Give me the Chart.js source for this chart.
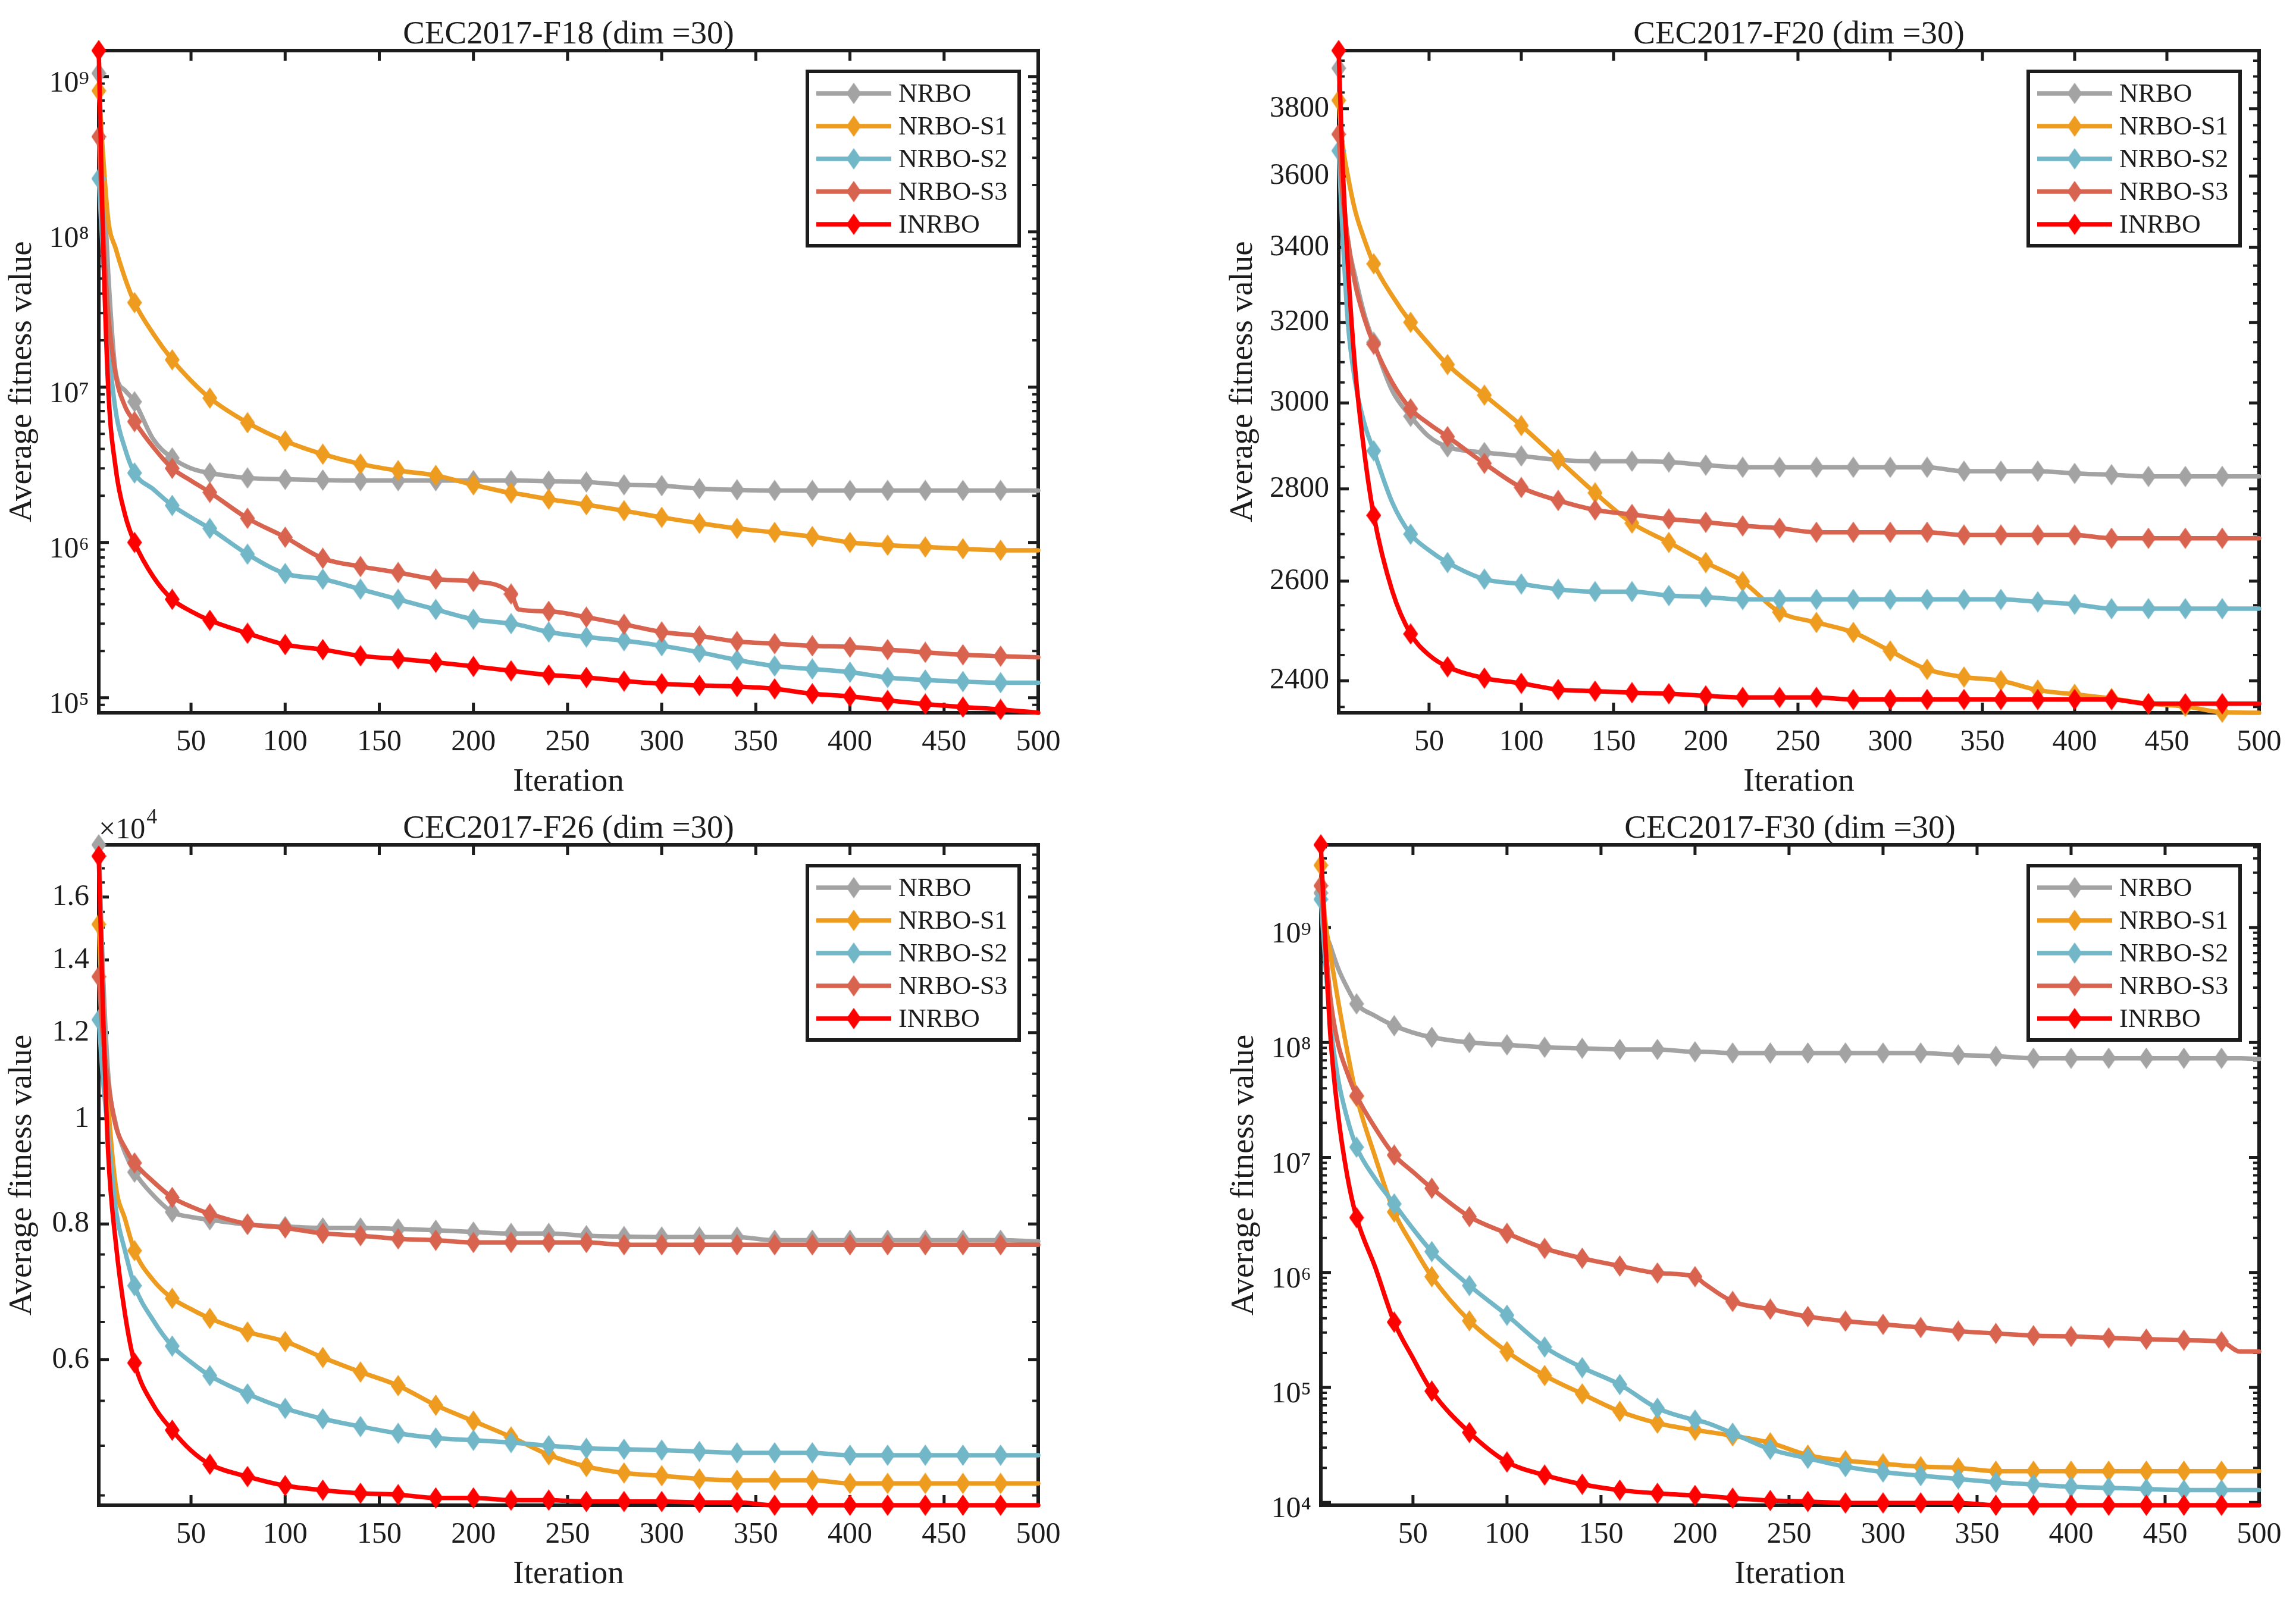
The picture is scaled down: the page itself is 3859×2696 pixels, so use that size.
<!DOCTYPE html>
<html>
<head>
<meta charset="utf-8">
<title>INRBO convergence curves</title>
<script src="https://cdn.jsdelivr.net/npm/chart.js@4.4.1/dist/chart.umd.min.js"></script>
<style>
  html, body { margin: 0; padding: 0; background: #fff; }
  #page { position: relative; width: 3859px; height: 2696px; background: #fff; overflow: hidden; }
  #page canvas { position: absolute; }
</style>
</head>
<body>
<div id="page">
  <canvas id="f18" width="1930" height="1348" style="left:0;top:0"></canvas>
  <canvas id="f20" width="1929" height="1348" style="left:1930px;top:0"></canvas>
  <canvas id="f26" width="1930" height="1348" style="left:0;top:1348px"></canvas>
  <canvas id="f30" width="1929" height="1348" style="left:1930px;top:1348px"></canvas>
</div>
<script>
// ---------------- SHARED ----------------
const SERIES_NAMES = ["NRBO", "NRBO-S1", "NRBO-S2", "NRBO-S3", "INRBO"];
const X_TICKS = [50, 100, 150, 200, 250, 300, 350, 400, 450, 500];
const MARKER_ITERS = [1, 20, 40, 60, 80, 100, 120, 140, 160, 180, 200, 220, 240,
  260, 280, 300, 320, 340, 360, 380, 400, 420, 440, 460, 480];

// ---------------- CEC2017-F18 ----------------
const F18_ITER = [1, 3, 6, 10, 15, 20, 30, 40, 50, 60, 80, 100, 120, 140, 160, 180, 200,
  220, 224, 240, 260, 280, 300, 320, 340, 360, 380, 400, 420, 440, 460, 480, 500];
const F18_NRBO = [1.05e9, 3e8, 5.5e7, 1.25e7, 9.5e6, 8.05e6, 4.6e6, 3.5e6, 3.0e6, 2.8e6,
  2.6e6, 2.55e6, 2.52e6, 2.5e6, 2.5e6, 2.5e6, 2.5e6, 2.5e6, 2.5e6, 2.48e6, 2.45e6,
  2.35e6, 2.32e6, 2.22e6, 2.18e6, 2.16e6, 2.16e6, 2.16e6, 2.16e6, 2.16e6, 2.16e6, 2.16e6, 2.16e6];
const F18_S1 = [8.1e8, 3.5e8, 1.2e8, 7.8e7, 5e7, 3.5e7, 2.2e7, 1.5e7, 1.1e7, 8.5e6,
  5.9e6, 4.5e6, 3.7e6, 3.2e6, 2.9e6, 2.7e6, 2.35e6, 2.08e6, 2.05e6, 1.9e6, 1.75e6,
  1.6e6, 1.45e6, 1.33e6, 1.23e6, 1.16e6, 1.09e6, 1.0e6, 9.6e5, 9.35e5, 9.1e5, 8.9e5, 8.9e5];
const F18_S2 = [2.2e8, 8e7, 2e7, 7e6, 4e6, 2.8e6, 2.2e6, 1.73e6, 1.45e6, 1.23e6,
  8.4e5, 6.3e5, 5.8e5, 5.0e5, 4.3e5, 3.7e5, 3.2e5, 3.0e5, 2.95e5, 2.65e5, 2.46e5,
  2.33e5, 2.16e5, 1.96e5, 1.75e5, 1.6e5, 1.53e5, 1.46e5, 1.35e5, 1.3e5, 1.27e5, 1.25e5, 1.25e5];
const F18_S3 = [4.1e8, 1.2e8, 3e7, 1.2e7, 7.5e6, 6e6, 4.1e6, 3.0e6, 2.5e6, 2.1e6,
  1.43e6, 1.08e6, 7.9e5, 7.0e5, 6.4e5, 5.8e5, 5.6e5, 4.65e5, 3.7e5, 3.6e5, 3.3e5,
  2.97e5, 2.65e5, 2.5e5, 2.3e5, 2.23e5, 2.16e5, 2.12e5, 2.04e5, 1.96e5, 1.89e5, 1.85e5, 1.82e5];
const F18_INRBO = [1.47e9, 1.2e8, 1.0e7, 3.0e6, 1.5e6, 1.0e6, 6.0e5, 4.3e5, 3.6e5, 3.15e5,
  2.6e5, 2.2e5, 2.04e5, 1.86e5, 1.78e5, 1.69e5, 1.59e5, 1.49e5, 1.47e5, 1.4e5, 1.35e5,
  1.28e5, 1.23e5, 1.2e5, 1.18e5, 1.14e5, 1.06e5, 1.02e5, 9.6e4, 9.1e4, 8.7e4, 8.4e4, 8.0e4];
const F18_YTICKS = [1e5, 1e6, 1e7, 1e8, 1e9];

// ---------------- CEC2017-F20 ----------------
const F20_ITER = [1, 3, 6, 10, 15, 20, 30, 40, 50, 60, 80, 100, 120, 140, 160, 180, 200,
  220, 240, 260, 280, 300, 320, 340, 360, 380, 400, 420, 440, 460, 480, 500];
const F20_NRBO = [3926, 3600, 3420, 3320, 3220, 3150, 3030, 2968, 2920, 2896,
  2883, 2875, 2866, 2863, 2863, 2861, 2854, 2849, 2849, 2849, 2849, 2849, 2849,
  2840, 2840, 2840, 2835, 2832, 2828, 2828, 2828, 2828];
const F20_S1 = [3826, 3700, 3600, 3500, 3420, 3355, 3270, 3201, 3145, 3094,
  3019, 2946, 2867, 2791, 2724, 2682, 2639, 2599, 2536, 2515, 2495, 2458, 2422,
  2407, 2400, 2382, 2374, 2366, 2356, 2351, 2340, 2339];
const F20_S2 = [3674, 3450, 3200, 3050, 2950, 2887, 2770, 2700, 2665, 2639,
  2604, 2594, 2583, 2578, 2578, 2570, 2567, 2562, 2562, 2562, 2562, 2562, 2562,
  2562, 2562, 2557, 2552, 2543, 2543, 2543, 2543, 2543];
const F20_S3 = [3723, 3550, 3420, 3300, 3210, 3145, 3050, 2986, 2950, 2920,
  2858, 2803, 2774, 2753, 2743, 2733, 2726, 2718, 2713, 2704, 2704, 2704, 2704,
  2698, 2698, 2698, 2698, 2691, 2691, 2691, 2691, 2691];
const F20_INRBO = [3982, 3650, 3350, 3080, 2880, 2741, 2580, 2492, 2450, 2427,
  2405, 2395, 2383, 2380, 2377, 2375, 2371, 2368, 2368, 2368, 2364, 2364, 2364,
  2364, 2364, 2364, 2364, 2364, 2356, 2356, 2356, 2356];
const F20_YTICKS = [2400, 2600, 2800, 3000, 3200, 3400, 3600, 3800];
const F20_YMINOR = [2350, 2450, 2500, 2550, 2650, 2700, 2750, 2850, 2900, 2950,
  3050, 3100, 3150, 3250, 3300, 3350, 3450, 3500, 3550, 3650, 3700, 3750, 3850, 3900, 3950];

// ---------------- CEC2017-F26 ----------------
const F26_ITER = F20_ITER;
const F26_NRBO = [17870, 14000, 11000, 9900, 9300, 8930, 8500, 8206, 8120, 8072,
  7990, 7957, 7934, 7934, 7918, 7895, 7865, 7842, 7842, 7805, 7790, 7782, 7782,
  7782, 7730, 7730, 7730, 7730, 7730, 7730, 7730, 7710];
const F26_S1 = [15100, 12500, 10300, 8680, 8080, 7561, 7100, 6834, 6680, 6550,
  6363, 6236, 6029, 5846, 5680, 5449, 5269, 5094, 4905, 4785, 4720, 4692, 4661,
  4648, 4648, 4648, 4617, 4617, 4617, 4617, 4617, 4617];
const F26_S2 = [12334, 11000, 9700, 8270, 7550, 7020, 6520, 6176, 5970, 5801,
  5581, 5412, 5294, 5208, 5133, 5083, 5059, 5035, 5001, 4973, 4963, 4954, 4940,
  4926, 4926, 4926, 4901, 4901, 4901, 4901, 4901, 4901];
const F26_S3 = [13516, 12000, 10800, 9850, 9400, 9106, 8750, 8463, 8300, 8174,
  8000, 7934, 7843, 7805, 7753, 7730, 7693, 7693, 7693, 7693, 7656, 7656, 7656,
  7656, 7656, 7656, 7656, 7656, 7656, 7656, 7656, 7656];
const F26_INRBO = [17447, 13000, 9300, 7700, 6600, 5960, 5450, 5168, 4950, 4808,
  4684, 4595, 4551, 4521, 4508, 4477, 4477, 4456, 4456, 4443, 4443, 4443, 4434,
  4434, 4408, 4408, 4408, 4408, 4408, 4408, 4408, 4408];
const F26_YTICKS = [6000, 8000, 10000, 12000, 14000, 16000];
const F26_YMINOR = [4500, 5000, 5500, 6500, 7000, 7500, 8500, 9000, 9500, 10500, 11000,
  11500, 12500, 13000, 13500, 14500, 15000, 15500, 16500, 17000, 17500];

// ---------------- CEC2017-F30 ----------------
const F30_ITER = [1, 3, 6, 10, 15, 20, 30, 40, 50, 60, 80, 100, 120, 140, 160, 180, 200,
  205, 220, 240, 260, 280, 300, 320, 340, 360, 380, 400, 420, 440, 460, 480, 490, 500];
const F30_NRBO = [2.0e9, 1.0e9, 7e8, 4.5e8, 3e8, 2.17e8, 1.7e8, 1.4e8, 1.22e8, 1.11e8,
  1.0e8, 9.55e7, 9.1e7, 8.9e7, 8.7e7, 8.7e7, 8.3e7, 8.3e7, 8.1e7, 8.1e7, 8.1e7,
  8.1e7, 8.1e7, 8.1e7, 7.8e7, 7.6e7, 7.3e7, 7.3e7, 7.3e7, 7.3e7, 7.3e7, 7.3e7, 7.3e7, 7.2e7];
const F30_S1 = [3.48e9, 1.3e9, 6e8, 2.4e8, 8.5e7, 3.4e7, 1.0e7, 3.36e6, 1.7e6, 9.2e5,
  3.8e5, 2.05e5, 1.27e5, 8.8e4, 6.2e4, 4.9e4, 4.25e4, 4.15e4, 3.8e4, 3.3e4, 2.58e4,
  2.31e4, 2.17e4, 2.05e4, 2.0e4, 1.87e4, 1.87e4, 1.87e4, 1.87e4, 1.87e4, 1.87e4, 1.87e4, 1.87e4, 1.87e4];
const F30_S2 = [1.76e9, 6e8, 1.5e8, 5e7, 2.2e7, 1.23e7, 6.5e6, 3.95e6, 2.4e6, 1.52e6,
  7.7e5, 4.25e5, 2.25e5, 1.49e5, 1.06e5, 6.6e4, 5.2e4, 5.0e4, 4.0e4, 2.9e4, 2.42e4,
  2.05e4, 1.84e4, 1.71e4, 1.6e4, 1.5e4, 1.43e4, 1.37e4, 1.34e4, 1.31e4, 1.28e4, 1.28e4, 1.28e4, 1.28e4];
const F30_S3 = [2.31e9, 9e8, 2.5e8, 1.0e8, 5.5e7, 3.45e7, 1.8e7, 1.05e7, 7.5e6, 5.4e6,
  3.06e6, 2.19e6, 1.62e6, 1.33e6, 1.14e6, 9.9e5, 9.2e5, 8.0e5, 5.6e5, 4.8e5, 4.14e5,
  3.78e5, 3.54e5, 3.32e5, 3.09e5, 2.95e5, 2.82e5, 2.78e5, 2.7e5, 2.63e5, 2.58e5, 2.5e5, 2.05e5, 2.05e5];
const F30_INRBO = [5.24e9, 1.0e9, 1.2e8, 2.5e7, 7e6, 3.0e6, 1.1e6, 3.7e5, 1.8e5, 9.3e4,
  4.06e4, 2.25e4, 1.73e4, 1.44e4, 1.28e4, 1.2e4, 1.15e4, 1.14e4, 1.09e4, 1.04e4, 1.02e4,
  9.9e3, 9.9e3, 9.9e3, 9.9e3, 9.46e3, 9.46e3, 9.46e3, 9.46e3, 9.46e3, 9.46e3, 9.46e3, 9.46e3, 9.46e3];
const F30_YTICKS = [1e4, 1e5, 1e6, 1e7, 1e8, 1e9];

// ---------------- STYLE ----------------
const SERIES_COLORS = ["#a3a3a3", "#ee9c20", "#72b7c8", "#d8634f", "#ff0000"];
const INK = "#1c1c1c";
const SERIF = "'Liberation Serif', 'Times New Roman', serif";
const X_AXIS_H = 150;

Chart.defaults.font.family = SERIF;
Chart.defaults.color = INK;

function makeDiamond(color) {
  const c = document.createElement("canvas");
  c.width = 25;
  c.height = 36;
  const g = c.getContext("2d");
  g.fillStyle = color;
  g.beginPath();
  g.moveTo(12.5, 0);
  g.lineTo(25, 18);
  g.lineTo(12.5, 36);
  g.lineTo(0, 18);
  g.closePath();
  g.fill();
  return c;
}
const DIAMONDS = SERIES_COLORS.map(makeDiamond);

// ---------------- TICK LABELS ----------------
const SUP = { "0": "\u2070", "1": "\u00b9", "2": "\u00b2", "3": "\u00b3", "4": "\u2074",
  "5": "\u2075", "6": "\u2076", "7": "\u2077", "8": "\u2078", "9": "\u2079" };

function powerLabel(v) {
  const e = String(Math.round(Math.log10(v)));
  return "10" + e.split("").map((d) => SUP[d]).join("");
}
function plainLabel(v) {
  return String(v);
}
function scaledLabel(v) {
  return String(Math.round(v / 1000) / 10);
}
function decadeMinor(min, max) {
  const out = [];
  for (let n = Math.floor(Math.log10(min)); n <= Math.ceil(Math.log10(max)); n++) {
    for (let k = 2; k <= 9; k++) {
      const v = k * Math.pow(10, n);
      if (v > min && v < max) out.push(v);
    }
  }
  return out;
}

// ---------------- PLUGINS ----------------
// box + inward tick marks, drawn under the curves like MATLAB
const axesBox = {
  id: "axesBox",
  beforeDatasetsDraw(chart, args, opts) {
    const { ctx, chartArea: a } = chart;
    const x = chart.scales.x;
    const y = chart.scales.y;
    ctx.save();
    ctx.strokeStyle = INK;
    ctx.lineCap = "butt";

    ctx.lineWidth = 5;
    ctx.beginPath();
    x.ticks.forEach((t) => {
      const px = x.getPixelForValue(t.value);
      ctx.moveTo(px, a.bottom);
      ctx.lineTo(px, a.bottom - 17);
      ctx.moveTo(px, a.top);
      ctx.lineTo(px, a.top + 17);
    });
    y.ticks.forEach((t) => {
      const py = y.getPixelForValue(t.value);
      ctx.moveTo(a.left, py);
      ctx.lineTo(a.left + 17, py);
      ctx.moveTo(a.right, py);
      ctx.lineTo(a.right - 17, py);
    });
    ctx.stroke();

    ctx.lineWidth = 4;
    ctx.beginPath();
    (opts.minor || []).forEach((v) => {
      const py = y.getPixelForValue(v);
      if (py < a.top || py > a.bottom) return;
      ctx.moveTo(a.left, py);
      ctx.lineTo(a.left + 10, py);
      ctx.moveTo(a.right, py);
      ctx.lineTo(a.right - 10, py);
    });
    ctx.stroke();

    ctx.lineWidth = 6;
    ctx.strokeRect(a.left, a.top, a.right - a.left, a.bottom - a.top);
    ctx.restore();
  },
};

// title, exponent note and MATLAB-style legend
const panelDecor = {
  id: "panelDecor",
  afterDatasetsDraw(chart, args, opts) {
    const { ctx, chartArea: a } = chart;
    ctx.save();
    ctx.fillStyle = INK;
    ctx.textBaseline = "alphabetic";
    ctx.textAlign = "center";
    ctx.font = `55px ${SERIF}`;
    ctx.fillText(opts.title, (a.left + a.right) / 2, a.top - 12);

    if (opts.exponent) {
      ctx.textAlign = "left";
      ctx.font = `50px ${SERIF}`;
      ctx.fillText("\u00d710", a.left, a.top - 11);
      const w = ctx.measureText("\u00d710").width;
      ctx.font = `36px ${SERIF}`;
      ctx.fillText(opts.exponent, a.left + w + 2, a.top - 36);
    }

    const lw = 356;
    const lh = 293;
    const lx = a.right - 32 - lw;
    const ly = a.top + 35;
    ctx.fillStyle = "#fff";
    ctx.fillRect(lx, ly, lw, lh);
    ctx.lineWidth = 6;
    ctx.strokeStyle = INK;
    ctx.strokeRect(lx, ly, lw, lh);

    chart.data.datasets.forEach((ds, i) => {
      const cy = ly + 37 + i * 55;
      ctx.strokeStyle = ds.borderColor;
      ctx.lineWidth = 7.5;
      ctx.beginPath();
      ctx.moveTo(lx + 15, cy);
      ctx.lineTo(lx + 141, cy);
      ctx.stroke();
      const m = DIAMONDS[i];
      ctx.drawImage(m, lx + 78 - m.width / 2, cy - m.height / 2);
      ctx.fillStyle = INK;
      ctx.font = `44px ${SERIF}`;
      ctx.textAlign = "left";
      ctx.textBaseline = "middle";
      ctx.fillText(ds.label, lx + 153, cy + 2);
    });
    ctx.restore();
  },
};

// ---------------- CHART BUILDER ----------------
function makeChart(p) {
  const canvas = document.getElementById(p.id);
  const W = canvas.width;
  const H = canvas.height;
  const all = p.series.flat();
  const yMin = Math.min(...all);
  const yMax = Math.max(...all);

  return new Chart(canvas, {
    type: "line",
    data: {
      datasets: SERIES_NAMES.map((name, i) => ({
        label: name,
        data: p.iters.map((x, j) => ({ x, y: p.series[i][j] })),
        borderColor: SERIES_COLORS[i],
        backgroundColor: SERIES_COLORS[i],
        borderWidth: 7.5,
        borderJoinStyle: "round",
        borderCapStyle: "round",
        cubicInterpolationMode: "monotone",
        pointStyle: DIAMONDS[i],
        pointRadius: (ctx) => (ctx.raw && MARKER_ITERS.includes(ctx.raw.x) ? 12 : 0),
        pointHoverRadius: 0,
        clip: false,
        order: -i,
      })),
    },
    options: {
      responsive: false,
      animation: false,
      devicePixelRatio: 1,
      events: [],
      layout: {
        padding: {
          left: 0,
          top: p.box.top,
          right: W - p.box.right,
          bottom: H - p.box.bottom - X_AXIS_H,
        },
      },
      plugins: {
        legend: { display: false },
        tooltip: { enabled: false },
        axesBox: { minor: p.minor(yMin, yMax) },
        panelDecor: { title: p.title, exponent: p.exponent },
      },
      scales: {
        x: {
          type: "linear",
          min: 1,
          max: 500,
          afterBuildTicks: (s) => { s.ticks = X_TICKS.map((v) => ({ value: v })); },
          afterFit: (s) => { s.height = X_AXIS_H; },
          grid: { display: false, drawTicks: false },
          border: { display: false },
          ticks: { font: { family: SERIF, size: 50 }, color: INK, padding: 20, maxRotation: 0, autoSkip: false },
          title: {
            display: true,
            text: "Iteration",
            font: { family: SERIF, size: 55 },
            color: INK,
            padding: { top: 2, bottom: 0 },
          },
        },
        y: {
          type: "logarithmic",
          min: yMin,
          max: yMax,
          afterBuildTicks: (s) => { s.ticks = p.yTicks.map((v) => ({ value: v })); },
          afterFit: (s) => { s.width = p.box.left; },
          grid: { display: false, drawTicks: false },
          border: { display: false },
          ticks: {
            font: { family: SERIF, size: 50 },
            color: INK,
            padding: 16,
            autoSkip: false,
            labelOffset: p.labelOffset,
            callback: (v) => p.yFormat(v),
          },
          title: {
            display: true,
            text: "Average fitness value",
            font: { family: SERIF, size: 55 },
            color: INK,
            padding: { top: p.yTitlePad, bottom: 0 },
          },
        },
      },
    },
    plugins: [axesBox, panelDecor],
  });
}

// ---------------- PANELS ----------------
makeChart({
  id: "f18",
  title: "CEC2017-F18 (dim =30)",
  iters: F18_ITER,
  series: [F18_NRBO, F18_S1, F18_S2, F18_S3, F18_INRBO],
  yTicks: F18_YTICKS,
  yFormat: powerLabel,
  minor: decadeMinor,
  labelOffset: 12,
  box: { left: 166, right: 1745, top: 85, bottom: 1198 },
  yTitlePad: 5,
});

makeChart({
  id: "f20",
  title: "CEC2017-F20 (dim =30)",
  iters: F20_ITER,
  series: [F20_NRBO, F20_S1, F20_S2, F20_S3, F20_INRBO],
  yTicks: F20_YTICKS,
  yFormat: plainLabel,
  minor: () => F20_YMINOR,
  labelOffset: 0,
  box: { left: 320, right: 1867, top: 85, bottom: 1198 },
  yTitlePad: 127,
});

makeChart({
  id: "f26",
  title: "CEC2017-F26 (dim =30)",
  iters: F26_ITER,
  series: [F26_NRBO, F26_S1, F26_S2, F26_S3, F26_INRBO],
  yTicks: F26_YTICKS,
  yFormat: scaledLabel,
  minor: () => F26_YMINOR,
  labelOffset: 0,
  exponent: "4",
  box: { left: 166, right: 1745, top: 72, bottom: 1182 },
  yTitlePad: 5,
});

makeChart({
  id: "f30",
  title: "CEC2017-F30 (dim =30)",
  iters: F30_ITER,
  series: [F30_NRBO, F30_S1, F30_S2, F30_S3, F30_INRBO],
  yTicks: F30_YTICKS,
  yFormat: powerLabel,
  minor: decadeMinor,
  labelOffset: 12,
  box: { left: 290, right: 1867, top: 72, bottom: 1182 },
  yTitlePad: 129,
});
</script>
</body>
</html>
